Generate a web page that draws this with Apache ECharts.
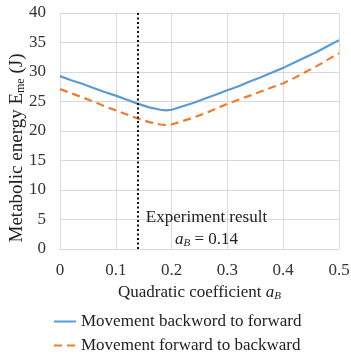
<!DOCTYPE html>
<html><head><meta charset="utf-8">
<script src="https://cdn.jsdelivr.net/npm/echarts@6/dist/echarts.min.js"></script>
<style>html,body{margin:0;padding:0;background:#fff}#c{width:351px;height:359px}</style>
</head><body><div id="c"></div>
<script>
const xValues = [0,0.02,0.04,0.06,0.08,0.10,0.12,0.14,0.16,0.18,0.19,0.20,0.22,0.24,0.26,0.28,0.30,0.32,0.34,0.36,0.38,0.40,0.42,0.44,0.46,0.48,0.50];
const backToFwd = [29.3,28.6,28.0,27.3,26.6,26.0,25.3,24.6,24.0,23.6,23.5,23.6,24.2,24.8,25.5,26.2,26.9,27.6,28.4,29.1,29.9,30.7,31.6,32.5,33.4,34.4,35.4];
const fwdToBack = [27.1,26.4,25.7,25.0,24.2,23.5,22.8,22.1,21.5,21.1,21.0,21.1,21.7,22.3,23.0,23.8,24.6,25.3,26.0,26.7,27.4,28.1,29.0,30.0,31.0,32.1,33.2];
const seriesNames = ['Movement backword to forward','Movement forward to backward'];
const experimentX = 0.14;
const xTicks = [0,0.1,0.2,0.3,0.4,0.5];
const yTicks = [0,5,10,15,20,25,30,35,40];

const font = 'Liberation Serif';
const fs = 17;
const chart = echarts.init(document.getElementById('c'));
const pair = (ys) => xValues.map((x,i)=>[x,ys[i]]);
chart.setOption({
  animation:false,
  textStyle:{fontFamily:font},
  grid:{left:60,right:12,top:13,bottom:110,outerBoundsMode:'none',containLabel:false},
  legend:{
    orient:'vertical', left:53, top:313, itemGap:7, itemWidth:22, itemHeight:18, padding:0,
    itemStyle:{opacity:0},
    textStyle:{fontFamily:font,fontSize:fs,color:'#222'},
    data:seriesNames
  },
  xAxis:{
    type:'value', min:0, max:0.5, interval:0.1,
    axisLine:{show:true,lineStyle:{color:'#d9d9d9'}},
    axisTick:{show:false},
    splitLine:{show:true,lineStyle:{color:'#d9d9d9'}},
    axisLabel:{fontFamily:font,fontSize:fs,color:'#333',margin:13,
      formatter:(v)=>{const t=xTicks.find(k=>Math.abs(k-v)<1e-9);return t===undefined?'':String(t);}},
    name:'Quadratic coefficient {i|a}{s|B}',
    nameLocation:'middle', nameGap:35, nameMoveOverlap:false,
    nameTextStyle:{fontFamily:font,fontSize:fs,color:'#222',
      rich:{i:{fontFamily:font,fontStyle:'italic',fontSize:fs,color:'#222'},
            s:{fontFamily:font,fontStyle:'italic',fontSize:11,color:'#222',padding:[7,0,0,0]}}}
  },
  yAxis:{
    type:'value', min:0, max:40, interval:5,
    axisLine:{show:true,lineStyle:{color:'#d9d9d9'}},
    axisTick:{show:false},
    splitLine:{show:true,lineStyle:{color:'#d9d9d9'}},
    axisLabel:{fontFamily:font,fontSize:fs,color:'#333',margin:14,
      formatter:(v)=>yTicks.includes(v)?String(v):''},
    name:'Metabolic energy E{s|me} (J)',
    nameLocation:'middle', nameGap:33, nameMoveOverlap:false,
    nameTextStyle:{fontFamily:font,fontSize:19,color:'#222',padding:[0,34,0,0],
      rich:{s:{fontFamily:font,fontSize:12,color:'#222',padding:[8,0,0,0]}}}
  },
  series:[
    {name:seriesNames[0],type:'line',data:pair(backToFwd),symbol:'none',smooth:false,
     lineStyle:{color:'#5b9bd5',width:2.2},itemStyle:{color:'#5b9bd5'},
     markLine:{silent:true,symbol:'none',label:{show:false},
       lineStyle:{color:'#111',type:[2,2.5],width:2},
       data:[[{coord:[experimentX,0]},{coord:[experimentX,40]}]]},
     markPoint:{symbol:'circle',symbolSize:0,
       data:[{coord:[0.2625,3.5],
         label:{show:true,position:'inside',
           formatter:'{t|Experiment result}\n{i|a}{s|B}{t| = 0.14}',
           rich:{t:{fontFamily:font,fontSize:fs,color:'#222',lineHeight:22},
                 i:{fontFamily:font,fontStyle:'italic',fontSize:fs,color:'#222',lineHeight:22},
                 s:{fontFamily:font,fontStyle:'italic',fontSize:11,color:'#222',padding:[7,0,0,0],lineHeight:22}}}}]}
    },
    {name:seriesNames[1],type:'line',data:pair(fwdToBack),symbol:'none',smooth:false,
     lineStyle:{color:'#ed7d31',width:2.2,type:[8,5]},itemStyle:{color:'#ed7d31'}}
  ]
});
</script></body></html>
